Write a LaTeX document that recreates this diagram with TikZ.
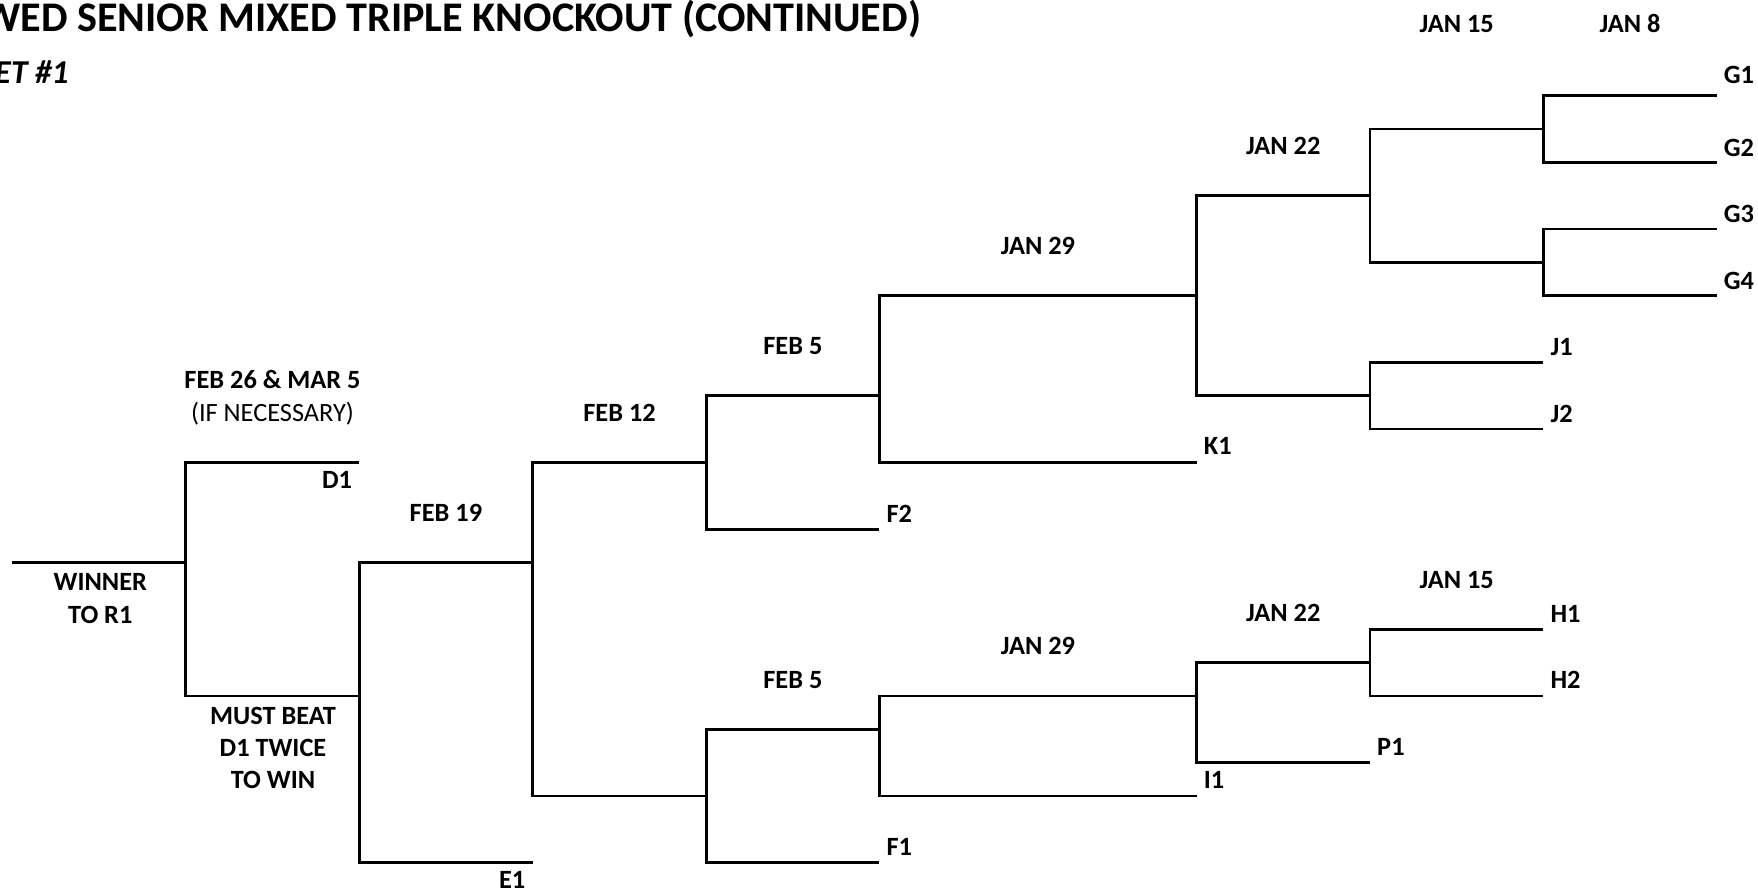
\documentclass[tikz,border=0pt]{standalone}
\usepackage{fontspec}
\setmainfont{Carlito}

\begin{document}
\begin{tikzpicture}[x=.02cm,y=-.667cm,line width=1.55pt,
  lbl/.style={font=\bfseries\fontsize{15}{18}\selectfont},
  date/.style={lbl,anchor=base},
  seed/.style={lbl,anchor=base west},
  seedlow/.style={lbl,anchor=base east},
  note/.style={lbl,align=center,anchor=north,inner sep=0pt,
    font=\bfseries\fontsize{15}{18.4}\selectfont}]
  \useasboundingbox (0,-2.87) rectangle (1758,23.88);
  \clip (0,-2.87) rectangle (1758,23.88);

  % heading
  \node[anchor=base east,inner sep=0pt,font=\bfseries\fontsize{24}{28}\selectfont]
    (title) at (922.5,-1.94) {WED SENIOR MIXED TRIPLE KNOCKOUT (CONTINUED)};
  \node[anchor=base east,inner sep=0pt,font=\bfseries\itshape\fontsize{19}{22}\selectfont]
    (sheet) at (70,-.38) {SHEET \#1};

  % line ends of the entries
  \coordinate (g1) at (1716.7,0);
  \coordinate (g2) at (1716.7,2);
  \coordinate (g3) at (1716.7,4);
  \coordinate (g4) at (1716.7,6);
  \coordinate (j1) at (1543.3,8);
  \coordinate (j2) at (1543.3,10);
  \coordinate (k1) at (1196.7,11);
  \coordinate (f2) at (879.3,13);
  \coordinate (h1) at (1543.3,16);
  \coordinate (h2) at (1543.3,18);
  \coordinate (p1) at (1370,20);
  \coordinate (i1) at (1196.7,21);
  \coordinate (f1) at (879.3,23);
  \coordinate (e1) at (532.5,23);
  \coordinate (d1) at (359.3,11);
  \coordinate (win) at (12.3,14);

  % match points
  \coordinate (m8a) at (1543.3,1);
  \coordinate (m8b) at (1543.3,5);
  \coordinate (m7a) at (1370,3);
  \coordinate (m7b) at (1370,9);
  \coordinate (m6a) at (1196.7,6);
  \coordinate (m5a) at (879.3,9);
  \coordinate (m4a) at (706.4,11);
  \coordinate (m7c) at (1370,17);
  \coordinate (m6b) at (1196.7,18);
  \coordinate (m5b) at (879.3,19);
  \coordinate (m4b) at (706.4,21);
  \coordinate (m3) at (532.5,14);
  \coordinate (m2) at (359.3,18);
  \coordinate (m1) at (185.7,14);

  % bracket
  \draw (g1) -| (m8a) |- (g2);
  \draw (g3) -| (m8b) |- (g4);
  \draw (m8a) -| (m7a) |- (m8b);
  \draw (j1) -| (m7b) |- (j2);
  \draw (m7a) -| (m6a) |- (m7b);
  \draw (m6a) -| (m5a) |- (k1);
  \draw (m5a) -| (m4a) |- (f2);
  \draw (h1) -| (m7c) |- (h2);
  \draw (m7c) -| (m6b) |- (p1);
  \draw (m6b) -| (m5b) |- (i1);
  \draw (m5b) -| (m4b) |- (f1);
  \draw (m4a) -| (m3) |- (m4b);
  \draw (m3) -| (m2) |- (e1);
  \draw (d1) -| (m1) |- (m2);
  \draw (m1) -- (win);

  % dates
  \node[date] (jan8) at (1630,-1.89) {JAN 8};
  \node[date] (jan15a) at (1456.7,-1.89) {JAN 15};
  \node[date] (jan22a) at (1283.3,1.77) {JAN 22};
  \node[date] (jan29a) at (1038,4.77) {JAN 29};
  \node[date] (feb5a) at (792.9,7.77) {FEB 5};
  \node[date] (feb12) at (619.5,9.77) {FEB 12};
  \node[date] (feb19) at (445.9,12.77) {FEB 19};
  \node[date] (feb26) at (272.5,8.77) {FEB 26 \& MAR 5};
  \node[date,font=\fontsize{15}{18}\selectfont] (ifnec) at (272.5,9.77) {(IF NECESSARY)};
  \node[date] (jan15b) at (1456.7,14.77) {JAN 15};
  \node[date] (jan22b) at (1283.3,15.77) {JAN 22};
  \node[date] (jan29b) at (1038,16.77) {JAN 29};
  \node[date] (feb5b) at (792.9,17.77) {FEB 5};

  % entries
  \node[seed] (lg1) at ([yshift=7pt]g1) {G1};
  \node[seed] (lg2) at ([yshift=3.5pt]g2) {G2};
  \node[seed] (lg3) at ([yshift=3.5pt]g3) {G3};
  \node[seed] (lg4) at ([yshift=3.5pt]g4) {G4};
  \node[seed] (lj1) at ([yshift=4pt]j1) {J1};
  \node[seed] (lj2) at ([yshift=4pt]j2) {J2};
  \node[seed] (lk1) at ([yshift=4.5pt]k1) {K1};
  \node[seed] (lf2) at ([yshift=4pt]f2) {F2};
  \node[seed] (lh1) at ([yshift=4pt]h1) {H1};
  \node[seed] (lh2) at ([yshift=4pt]h2) {H2};
  \node[seed] (lp1) at ([yshift=4pt]p1) {P1};
  \node[seed] (li1) at ([yshift=4pt]i1) {I1};
  \node[seed] (lf1) at ([yshift=4pt]f1) {F1};
  \node[seedlow] (ld1) at ([yshift=-14.8pt]d1) {D1};
  \node[seedlow] (le1) at ([yshift=-14.8pt]e1) {E1};

  \node[note] (winner) at (100.3,14.3) {WINNER\\TO R1};
  \node[note] (mustbeat) at (273,18.29) {MUST BEAT\\D1 TWICE\\TO WIN};
\end{tikzpicture}
\end{document}
